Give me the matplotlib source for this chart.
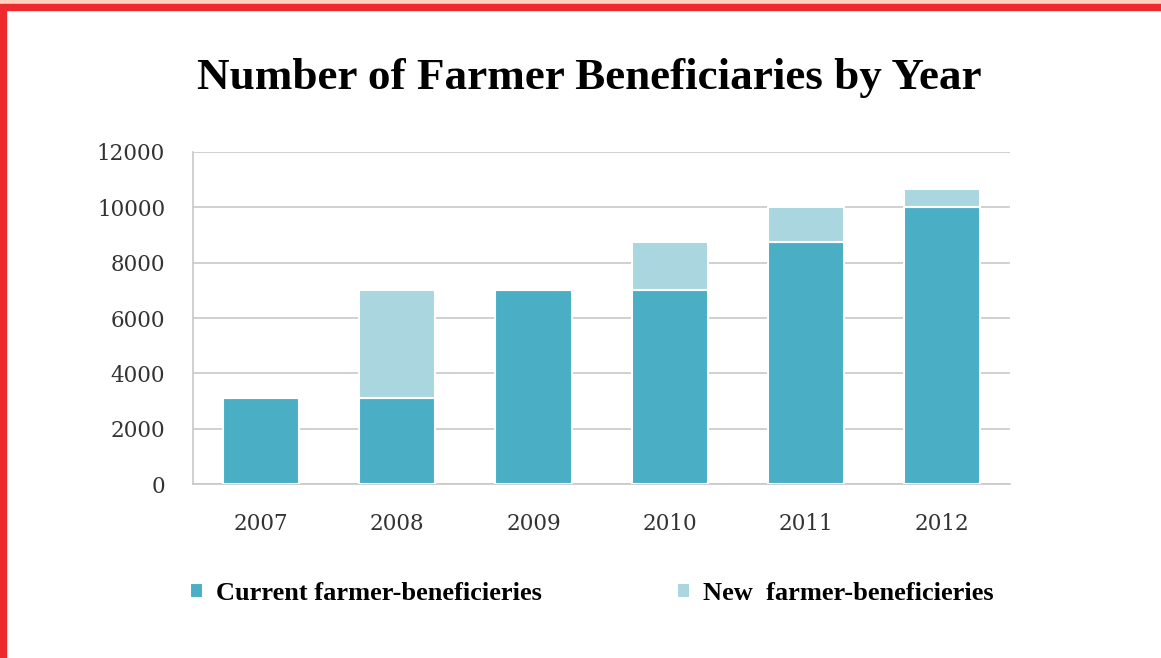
import numpy as np
import matplotlib.pyplot as plt
from matplotlib.patches import Rectangle

years = ['2007', '2008', '2009', '2010', '2011', '2012']
current = [3100, 3100, 7000, 7000, 8750, 10000]
new = [0, 3900, 0, 1750, 1250, 650]

CUR_COLOR = '#4aafc5'
NEW_COLOR = '#aad6df'

plt.rcParams['font.family'] = ['Liberation Serif', 'DejaVu Serif']

fig = plt.figure(figsize=(11.61, 6.58), dpi=100)
ax = fig.add_axes([0.1662, 0.2644, 0.7040, 0.5046])

x = np.arange(len(years))
ax.bar(x, current, width=0.56, color=CUR_COLOR, edgecolor='white', linewidth=1.5,
       zorder=3, label='Current farmer-beneficieries')
ax.bar(x, new, width=0.56, bottom=current, color=NEW_COLOR, edgecolor='white',
       linewidth=1.5, zorder=3, label='New  farmer-beneficieries')

ax.set_xlim(-0.5, 5.5)
ax.set_ylim(0, 12000)
ax.set_yticks(range(0, 12001, 2000))
ax.set_xticks(x)
ax.set_xticklabels(years)
ax.tick_params(axis='both', length=0, labelsize=15.5, labelcolor='#333333')
ax.tick_params(axis='y', pad=20)
ax.tick_params(axis='x', pad=21)
for lab in ax.get_xticklabels() + ax.get_yticklabels():
    lab.set_family('DejaVu Serif')
ax.yaxis.grid(True, color='#c8c8c8', linewidth=1.2, zorder=0)
ax.set_axisbelow(True)
for side in ['top', 'right']:
    ax.spines[side].set_visible(False)
ax.spines['left'].set_color('#c8c8c8')
ax.spines['bottom'].set_color('#c8c8c8')
ax.spines['left'].set_linewidth(1.2)
ax.spines['bottom'].set_linewidth(1.2)

fig.text(0.508, 0.881, 'Number of Farmer Beneficiaries by Year', ha='center',
         va='center', fontsize=32.5, fontweight='bold')

fig.legend(loc='center left', bbox_to_anchor=(0.143, 0.098), ncol=2, frameon=False,
           prop={'weight': 'bold', 'size': 19}, handlelength=0.5, handleheight=0.5,
           handletextpad=0.5, columnspacing=5.1)

# page border seen in the reference
fig.patches.append(Rectangle((0, 0.993), 1, 0.007, transform=fig.transFigure,
                             color='#fdd3bf', zorder=10))
fig.patches.append(Rectangle((0, 0.985), 1, 0.009, transform=fig.transFigure,
                             color='#ee2a2f', zorder=10))
fig.patches.append(Rectangle((0, 0), 0.005, 0.993, transform=fig.transFigure,
                             color='#ee2a2f', zorder=10))

fig.savefig('out.png', dpi=100)
